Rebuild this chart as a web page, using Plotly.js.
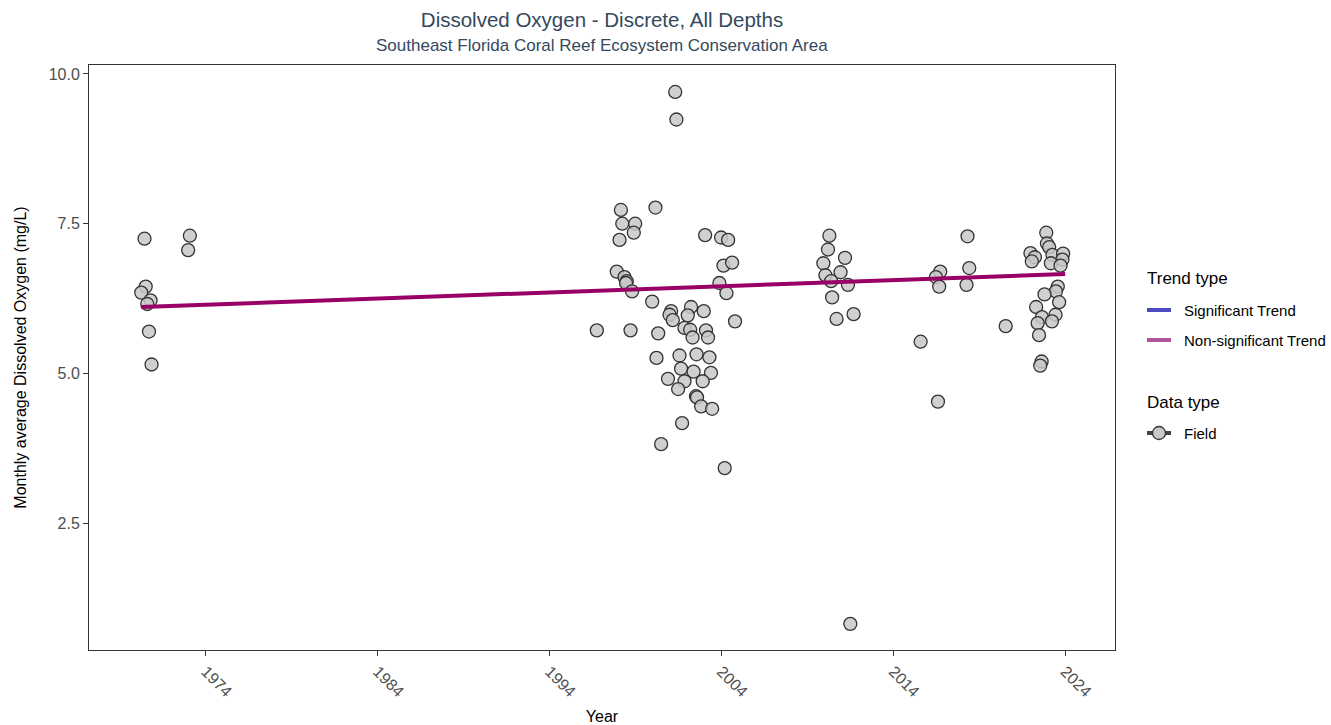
<!DOCTYPE html>
<html>
<head>
<meta charset="utf-8">
<script src="https://cdn.plot.ly/plotly-3.0.1.min.js"></script>
<style>html,body{margin:0;padding:0;background:#fff;}#chart{width:1331px;height:725px;}</style>
</head>
<body>
<div id="chart"></div>
<script>
// Field observations: decimal year and monthly average DO (mg/L)
const fieldYears = [
  1970.43, 1973.07, 1972.97, 1970.50, 1970.24, 1970.78, 1970.59, 1970.69, 1970.84,
  2001.31, 2001.38, 2000.16, 1998.15, 1998.23, 1998.98, 1998.90, 1998.07, 2003.05, 2003.98, 2004.39,
  1997.91, 1998.36, 1998.49, 1998.45, 1998.80, 2004.12, 2004.62, 2003.88, 2004.29, 1999.97,
  2001.07, 2000.98, 2001.17, 2002.23, 2002.04, 2002.97, 2004.79, 1996.75, 1998.71, 2000.32,
  2001.85, 2002.18, 2003.10, 2002.32, 2003.22, 2000.22, 2001.56, 2002.55, 2003.30, 2001.65,
  2002.38, 2003.39, 2000.89, 2001.85, 2002.91, 2001.48, 2002.52, 2002.58, 2002.82, 2003.46,
  2001.71, 2000.49, 2004.19,
  2010.28, 2010.20, 2011.19, 2009.93, 2010.93, 2010.05, 2010.38, 2011.36, 2010.44, 2011.69,
  2010.70, 2011.50,
  2015.59, 2016.73, 2016.48, 2016.67, 2016.60, 2018.32, 2018.42, 2018.26, 2020.54,
  2022.90, 2022.94, 2023.07, 2021.98, 2022.24, 2022.06, 2023.26, 2023.88, 2023.84, 2023.17,
  2023.73, 2023.57, 2023.46, 2022.80, 2023.65, 2022.31, 2023.44, 2022.65, 2023.23, 2022.40,
  2022.48, 2022.63, 2022.55
];
const fieldValues = [
  7.25, 7.30, 7.06, 6.45, 6.35, 6.22, 6.16, 5.70, 5.15,
  9.70, 9.24, 7.77, 7.73, 7.50, 7.50, 7.35, 7.23, 7.31, 7.27, 7.23,
  6.70, 6.61, 6.54, 6.51, 6.37, 6.80, 6.85, 6.51, 6.34, 6.20,
  6.04, 5.98, 5.89, 6.11, 5.97, 6.04, 5.87, 5.72, 5.72, 5.67,
  5.76, 5.73, 5.72, 5.60, 5.60, 5.26, 5.30, 5.32, 5.27, 5.08,
  5.03, 5.01, 4.91, 4.87, 4.87, 4.74, 4.62, 4.60, 4.45, 4.41,
  4.17, 3.82, 3.42,
  7.30, 7.07, 6.93, 6.84, 6.69, 6.64, 6.54, 6.48, 6.27, 5.99,
  5.91, 0.82,
  5.53, 6.70, 6.61, 6.45, 4.53, 7.29, 6.76, 6.48, 5.79,
  7.35, 7.17, 7.11, 7.01, 6.94, 6.87, 6.98, 7.00, 6.90, 6.84,
  6.80, 6.45, 6.37, 6.32, 6.19, 6.11, 5.98, 5.94, 5.87, 5.84,
  5.64, 5.20, 5.13
];
// Trend line (non-significant)
const trendYears = [1970.24, 2024.0];
const trendValues = [6.11, 6.66];
// Axis ticks
const xTickVals = [1974, 1984, 1994, 2004, 2014, 2024];
const yTickVals = [2.5, 5.0, 7.5, 10.0];
const yTickText = ["2.5", "5.0", "7.5", "10.0"];
// Legend entries
const legendTrendTitle = 'Trend type';
const legendTrendNames = ['Significant Trend', 'Non-significant Trend'];
const legendDataTitle = 'Data type';
const legendDataNames = ['Field'];

const W = 1331, H = 725;
const M = {l: 89, r: 216, t: 65, b: 75};
const PW = W - M.l - M.r, PH = H - M.t - M.b;
const px = v => (v - M.l) / PW;
const py = v => (H - M.b - v) / PH;

const traces = [
  {
    x: fieldYears, y: fieldValues, type: 'scatter', mode: 'markers',
    marker: {size: 13, color: 'rgba(200,200,200,0.85)', line: {color: '#333333', width: 1.3}},
    showlegend: false, hoverinfo: 'x+y'
  },
  {
    x: trendYears, y: trendValues, type: 'scatter', mode: 'lines',
    line: {color: '#990066', width: 4},
    showlegend: false, hoverinfo: 'skip'
  }
];

const trendColors = ['#4b4bbf', '#b0559c'];
const annotations = [{
  text: 'Southeast Florida Coral Reef Ecosystem Conservation Area',
  xref: 'paper', yref: 'paper', x: 0.5, y: 1, xanchor: 'center', yanchor: 'bottom',
  yshift: 8, showarrow: false, font: {size: 17, color: '#34495e'}
}];
const shapes = [];
const legTitleFont = {size: 17, color: '#000'};
const legItemFont = {size: 15, color: '#000'};
annotations.push({text: legendTrendTitle, xref: 'paper', yref: 'paper', x: px(1145), y: py(278),
  xanchor: 'left', yanchor: 'middle', showarrow: false, font: legTitleFont});
legendTrendNames.forEach((n, i) => {
  const yy = 310 + i * 30;
  shapes.push({type: 'line', xref: 'paper', yref: 'paper', x0: px(1147), x1: px(1171), y0: py(yy), y1: py(yy),
    line: {color: trendColors[i], width: 4}});
  annotations.push({text: n, xref: 'paper', yref: 'paper', x: px(1182), y: py(yy),
    xanchor: 'left', yanchor: 'middle', showarrow: false, font: legItemFont});
});
annotations.push({text: legendDataTitle, xref: 'paper', yref: 'paper', x: px(1145), y: py(402),
  xanchor: 'left', yanchor: 'middle', showarrow: false, font: legTitleFont});
legendDataNames.forEach((n, i) => {
  const yy = 433 + i * 30;
  shapes.push({type: 'line', xref: 'paper', yref: 'paper', x0: px(1147), x1: px(1171), y0: py(yy), y1: py(yy),
    line: {color: '#444444', width: 4}});
  shapes.push({type: 'circle', xref: 'paper', yref: 'paper', x0: px(1159 - 6.5), x1: px(1159 + 6.5),
    y0: py(yy + 6.5), y1: py(yy - 6.5), fillcolor: 'rgb(200,200,200)', line: {color: '#333333', width: 1.3}});
  annotations.push({text: n, xref: 'paper', yref: 'paper', x: px(1182), y: py(yy),
    xanchor: 'left', yanchor: 'middle', showarrow: false, font: legItemFont});
});

const layout = {
  width: W, height: H,
  paper_bgcolor: '#ffffff', plot_bgcolor: '#ffffff',
  margin: M,
  font: {family: 'Arial, Liberation Sans, sans-serif', color: '#000'},
  title: {
    text: 'Dissolved Oxygen - Discrete, All Depths',
    font: {size: 20.5, color: '#34495e'},
    x: 0.5, xanchor: 'center', xref: 'paper', y: 0.972, yanchor: 'middle'
  },
  annotations: annotations,
  shapes: shapes,
  xaxis: {
    range: [1967.2, 2026.9],
    tickmode: 'array', tickvals: xTickVals, ticktext: xTickVals.map(String),
    tickangle: 45, ticks: 'outside', ticklen: 5, tickcolor: '#333',
    tickfont: {size: 16, color: '#4d4d4d'},
    showgrid: false, zeroline: false,
    showline: true, linecolor: '#333', linewidth: 1, mirror: true,
    title: {text: 'Year', font: {size: 16, color: '#000'}, standoff: 12}
  },
  yaxis: {
    range: [0.383, 10.15],
    tickmode: 'array', tickvals: yTickVals, ticktext: yTickText,
    ticks: 'outside', ticklen: 5, tickcolor: '#333',
    tickfont: {size: 16, color: '#4d4d4d'},
    showgrid: false, zeroline: false,
    showline: true, linecolor: '#333', linewidth: 1, mirror: true,
    title: {text: 'Monthly average Dissolved Oxygen (mg/L)', font: {size: 16, color: '#000'}, standoff: 18}
  },
  showlegend: false
};

Plotly.newPlot('chart', traces, layout, {displayModeBar: false, staticPlot: true});
</script>
</body>
</html>
